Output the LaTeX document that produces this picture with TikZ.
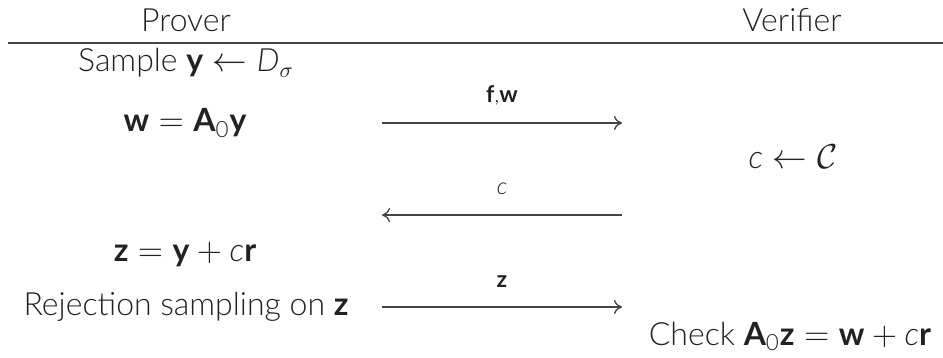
\documentclass[tikz,border=0pt]{standalone}
\usepackage{amsmath}
\usepackage{fontspec}
\setmainfont{Lato}[UprightFont=* Light, ItalicFont=* Light Italic,
  BoldFont=* Bold, BoldItalicFont=* Bold Italic]
\usetikzlibrary{arrows.meta}
\definecolor{inkgray}{RGB}{34,34,34}
\definecolor{wiregray}{RGB}{68,68,68}

\begin{document}
\begin{tikzpicture}[
    x=0.5pt,y=-0.5pt,
    every node/.style={inner sep=0pt,anchor=base,text=inkgray},
    party/.style={font=\fontsize{16}{19}\selectfont},
    txt/.style={font=\fontsize{16}{19}\selectfont},
    lbl/.style={font=\fontsize{11.5}{14}\selectfont},
    rulel/.style={draw=wiregray,line width=0.9pt},
    msg/.style={draw=wiregray,line width=0.65pt,-{To[length=4pt,width=7pt]}}
  ]
    \useasboundingbox (0,0) rectangle (943,358);
    \node[party] (prover) at (186,32) {Prover};
    \node[party] (verifier) at (792,32) {Verifier};
    \coordinate (ruleL) at (8,43);
    \coordinate (ruleR) at (943,43);
    \draw[rulel] (ruleL) -- (ruleR);
    % prover side
    \node[txt] (sample) at (186,72) {Sample $\textbf{y} \leftarrow \textit{D}_\sigma$};
    \node[txt] (commit) at (185,132) {$\textbf{w} = \textbf{A}_{\textrm{0}}\textbf{y}$};
    \node[txt] (resp) at (185,262) {$\textbf{z} = \textbf{y} + \textit{c}\textbf{r}$};
    \node[txt] (reject) at (186,315) {Rejection sampling on $\textbf{z}$};
    % verifier side
    \node[txt] (chal) at (793,169) {$\textit{c} \leftarrow \mathcal{C}$};
    \node[txt] (check) at (790,345) {Check $\textbf{A}_{\textrm{0}}\textbf{z} = \textbf{w} + \textit{c}\textbf{r}$};
    % messages
    \coordinate (m1l) at (382,123);
    \coordinate (m1r) at (622,123);
    \coordinate (m2l) at (382,215);
    \coordinate (m2r) at (622,215);
    \coordinate (m3l) at (382,307);
    \coordinate (m3r) at (622,307);
    \draw[msg] (m1l) -- (m1r);
    \draw[msg] (m2r) -- (m2l);
    \draw[msg] (m3l) -- (m3r);
    \node[lbl] (m1txt) at (502,103) {\textbf{f},\textbf{w}};
    \node[lbl] (m2txt) at (502,195) {\textit{c}};
    \node[lbl] (m3txt) at (502,287) {\textbf{z}};
  \end{tikzpicture}
\end{document}
